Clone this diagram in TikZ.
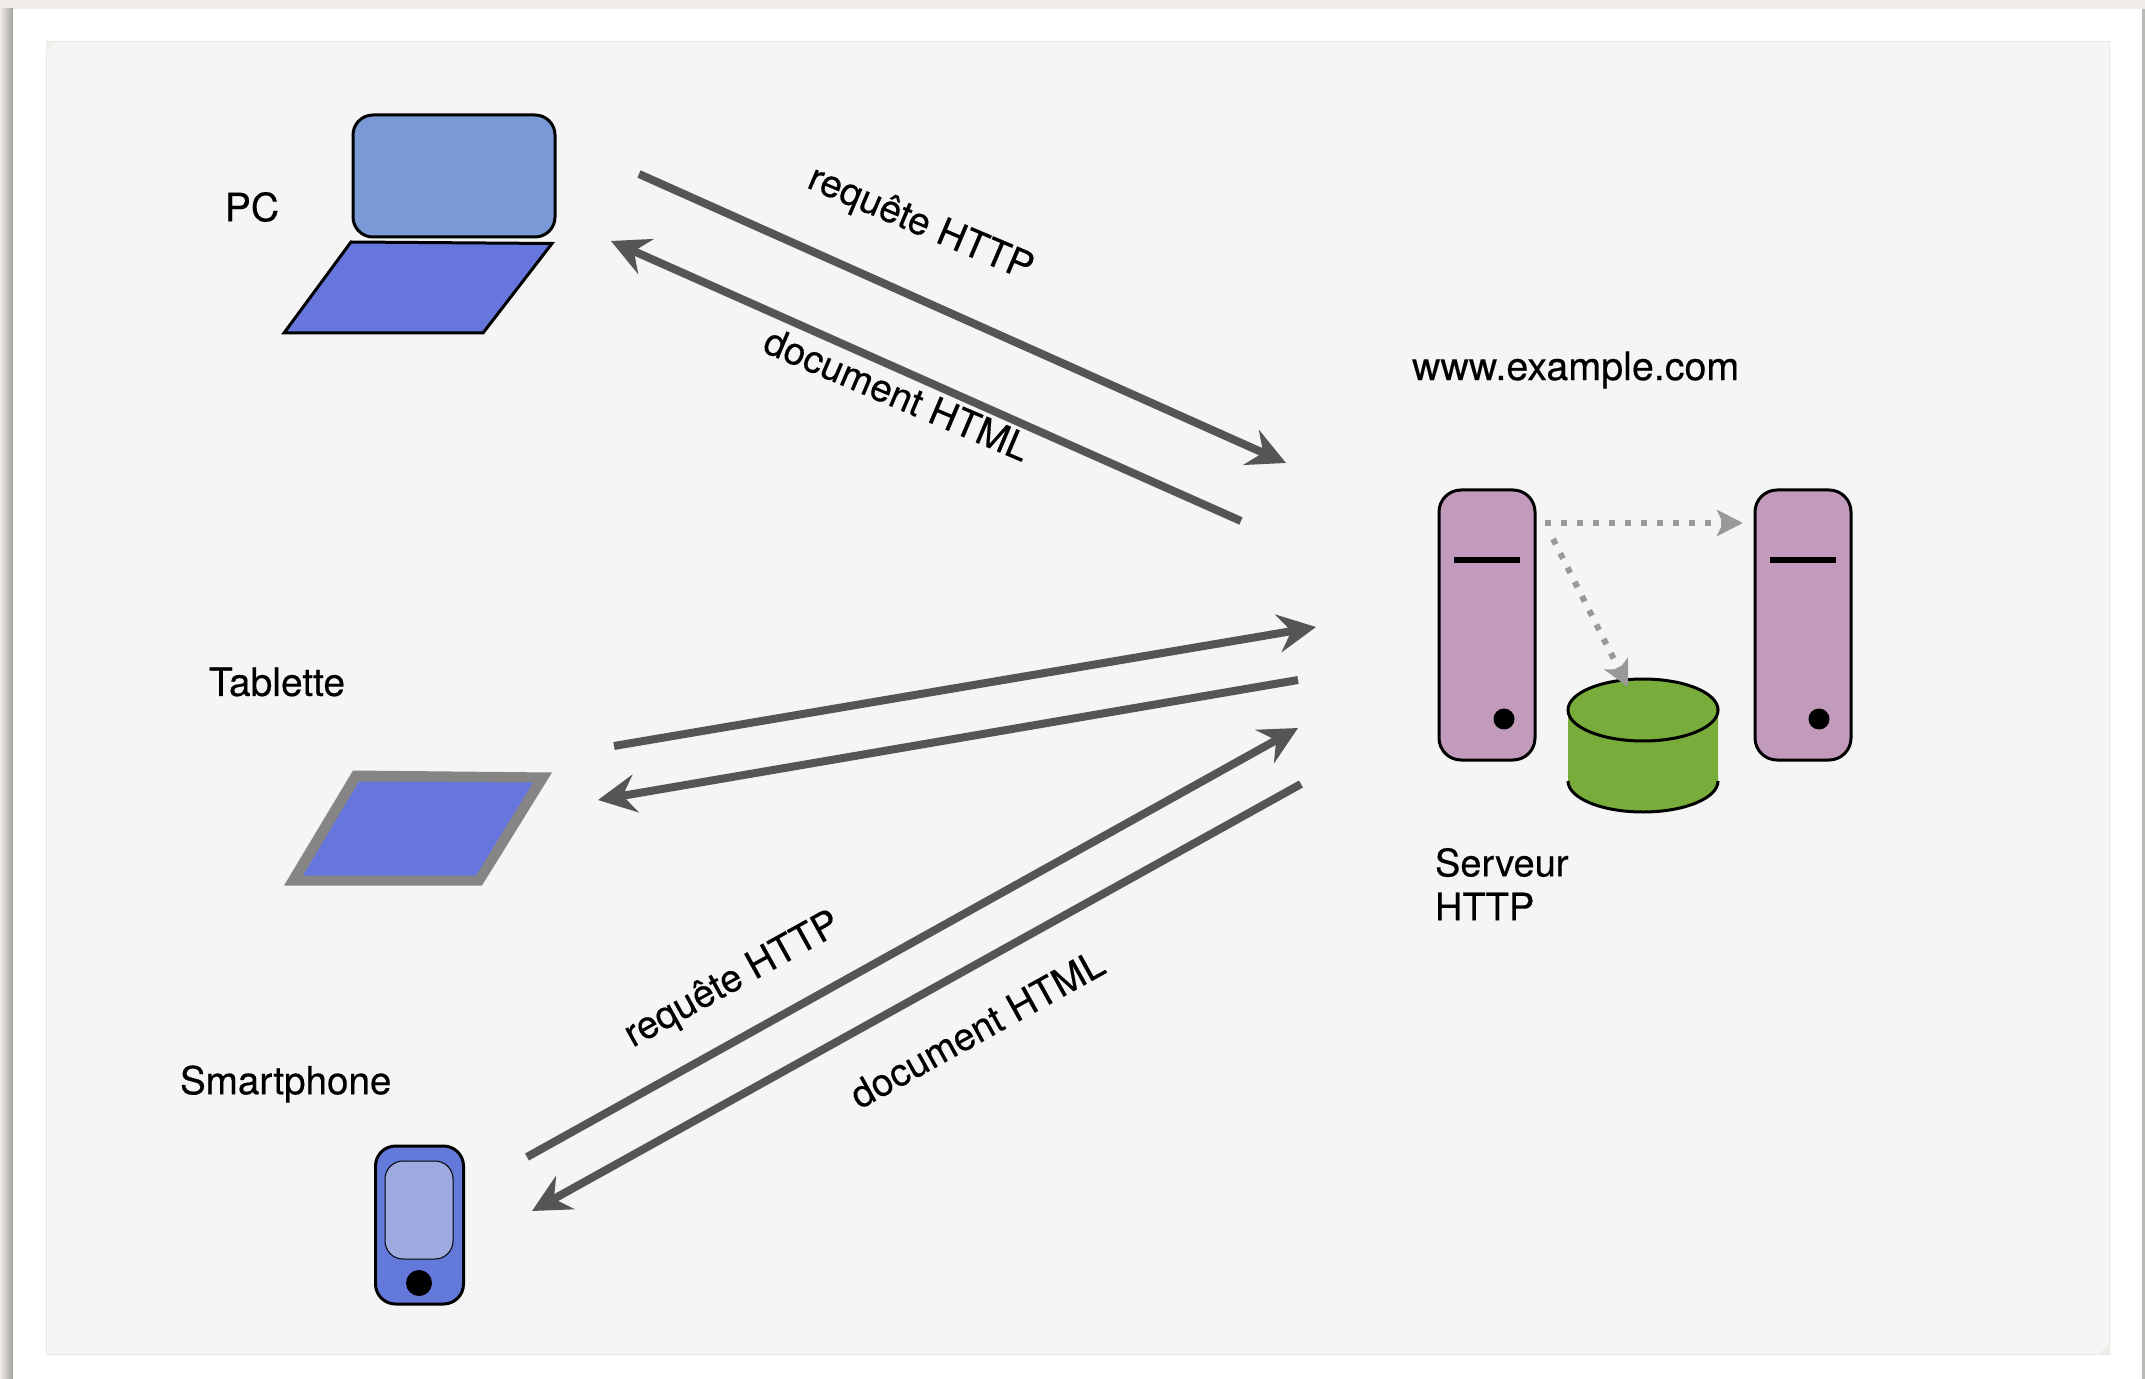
\documentclass[tikz,border=0pt]{standalone}
\usepackage{fontspec}
\setmainfont{TeX Gyre Heros}
\newfontfamily\lblfont[FakeBold=0.4]{TeX Gyre Heros}
\usetikzlibrary{arrows.meta,shapes.geometric}
\definecolor{pagebg}{HTML}{F0EDE8}
\definecolor{panel}{HTML}{F5F5F5}
\definecolor{panelline}{HTML}{E6E6E6}
\definecolor{screenblue}{HTML}{7A9AD6}
\definecolor{keyblue}{HTML}{6776DC}
\definecolor{phoneblue}{HTML}{647ADA}
\definecolor{phonescreen}{HTML}{9DAAE0}
\definecolor{tabframe}{HTML}{858585}
\definecolor{servermauve}{HTML}{C29ABC}
\definecolor{dbgreen}{HTML}{79AD3B}
\definecolor{arrowgrey}{HTML}{555555}
\definecolor{dotgrey}{HTML}{999999}
\tikzset{
  label/.style={font=\lblfont\fontsize{19.5}{22}\selectfont,text=black,inner sep=0pt,outer sep=0pt},
  tilted/.style={label,font=\lblfont\fontsize{19.2}{22}\selectfont},
  flow/.style={draw=arrowgrey,line width=4pt,-{Stealth[length=19pt,width=19pt,inset=6.5pt]}},
  internal/.style={draw=dotgrey,line width=3pt,dash pattern=on 3pt off 5pt,
    -{Stealth[length=13pt,width=13pt,inset=3pt,color=dotgrey]}},
  serverbox/.style={draw=black,fill=servermauve,line width=1.5pt,rounded corners=11pt,
    minimum width=48pt,minimum height=135pt,inner sep=0pt},
  ledg/.style={circle,fill=black,minimum size=10.5pt,inner sep=0pt},
  slash/.style={draw=black,line width=3pt},
  hw/.style={draw=black,line width=1.5pt,line join=miter},
}
\begin{document}
\begin{tikzpicture}[x=0.5pt,y=-0.5pt]
\useasboundingbox (0,0) rectangle (2145,1379);
% page
\fill[pagebg] (0,0) rectangle (2145,1379);
\shade[left color=pagebg,right color=black!32!pagebg] (0,9) rectangle (13,1379);
\fill[white] (13,9) rectangle (2142,1379);
\fill[black!22!pagebg] (2142,9) rectangle (2145,1379);
% panel
\fill[panel,draw=panelline,line width=0.5pt] (46,42) rectangle (2109,1354);
\fill[pagebg] (46,42) -- (56,42) -- (46,52) -- cycle;
\fill[pagebg] (2109,1354) -- (2099,1354) -- (2109,1344) -- cycle;
% PC
\node[hw,fill=screenblue,rounded corners=10pt,minimum width=101pt,minimum height=61pt,inner sep=0pt] (pcscreen) at (454,176) {};
\draw[hw,fill=keyblue] (351,242) -- (552,243.5) -- (483,333) -- (284,333) -- cycle;
\node[label] (pclabel) at (252,207) {PC};
% Tablet
\fill[tabframe] (353,770.5) -- (552,772.5) -- (482,885.5) -- (284,885.5) -- cycle;
\fill[keyblue] (359,781.5) -- (533,782.5) -- (476,875.5) -- (303,875.5) -- cycle;
\node[label,anchor=west] (tablabel) at (209,682) {Tablette};
% Phone
\node[draw=black,line width=1.5pt,fill=phoneblue,rounded corners=10pt,minimum width=44pt,minimum height=79pt,inner sep=0pt] (phone) at (419.5,1225) {};
\node[draw=black,line width=0.5pt,fill=phonescreen,rounded corners=9pt,minimum width=34pt,minimum height=49pt,inner sep=0pt] (phonescreen) at (419,1210) {};
\node[circle,fill=black,minimum size=13pt,inner sep=0pt] (phonebutton) at (419,1283) {};
\node[label,font=\lblfont\fontsize{19.3}{22}\selectfont,anchor=west] (smlabel) at (180,1084) {Smartphone};
% Servers
\node[serverbox] (srvA) at (1487,625) {};
\node[serverbox] (srvB) at (1803,625) {};
\draw[slash] (1454,560) -- (1520,560);
\draw[slash] (1770,560) -- (1836,560);
\node[ledg] (ledA) at (1504,719) {};
\node[ledg] (ledB) at (1819,719) {};
% Database
\fill[dbgreen] (1568,710) -- (1568,781) arc[start angle=180,end angle=0,x radius=75,y radius=31] -- (1718,710) -- cycle;
\draw[black,line width=1.5pt] (1568,781) arc[start angle=180,end angle=0,x radius=75,y radius=31];
\node[ellipse,draw=black,line width=1.5pt,fill=dbgreen,minimum width=75pt,minimum height=31pt,inner sep=0pt] (dbtop) at (1643,710) {};
\node[label,font=\lblfont\fontsize{19.7}{22}\selectfont,anchor=west] (wwwlabel) at (1412,370) {www.example.com};
\node[label,font=\lblfont\fontsize{19}{22}\selectfont,anchor=north west,align=left] (srvlabel) at (1435,848) {Serveur\\HTTP};
% Connector ends
\coordinate (a1s) at (639,174);  \coordinate (a1e) at (1286,463);
\coordinate (a2s) at (1241,521); \coordinate (a2e) at (611,241);
\coordinate (a3s) at (614,746);  \coordinate (a3e) at (1316,627);
\coordinate (a4s) at (1298,680); \coordinate (a4e) at (598,800);
\coordinate (a5s) at (527,1157); \coordinate (a5e) at (1298,728);
\coordinate (a6s) at (1301,784); \coordinate (a6e) at (532,1211);
\coordinate (d1s) at (1545,523); \coordinate (d1e) at (1743,523);
\coordinate (d2s) at (1553,539); \coordinate (d2e) at (1628,687);
\draw[flow] (a1s) -- (a1e);
\draw[flow] (a2s) -- (a2e);
\draw[flow] (a3s) -- (a3e);
\draw[flow] (a4s) -- (a4e);
\draw[flow] (a5s) -- (a5e);
\draw[flow] (a6s) -- (a6e);
\draw[internal] (d1s) -- (d1e);
\draw[internal] (d2s) -- (d2e);
% Rotated labels
\node[tilted,rotate=-23] (l1) at (920,225) {requête HTTP};
\node[tilted,rotate=-23] (l2) at (897,394) {document HTML};
\node[tilted,rotate=29] (l3) at (733,981) {requête HTTP};
\node[tilted,rotate=29] (l4) at (977,1029) {document HTML};
\end{tikzpicture}
\end{document}
